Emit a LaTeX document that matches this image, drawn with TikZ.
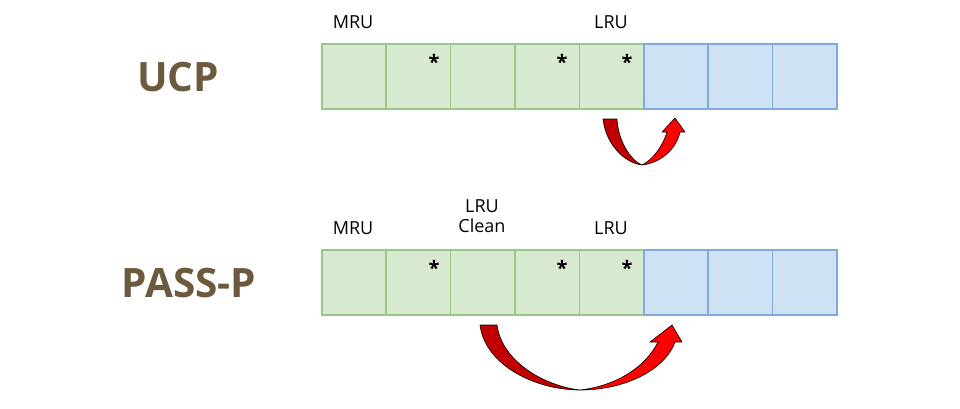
\documentclass[tikz,border=0pt]{standalone}
\usepackage{fontspec}
\setmainfont{Open Sans}
\definecolor{gfill}{HTML}{D8E9D2}
\definecolor{gline}{HTML}{98C887}
\definecolor{bfill}{HTML}{CFE2F3}
\definecolor{bline}{HTML}{7FAADF}
\definecolor{titlec}{HTML}{6B5A3E}
\definecolor{darkred}{HTML}{C00000}
\definecolor{brightred}{HTML}{FF0000}
\begin{document}
\begin{tikzpicture}[x=1pt,y=-1pt,
  gcell/.style={draw=gline,fill=gfill,line width=1.5pt,minimum width=64.4pt,minimum height=65pt,inner sep=0pt,anchor=north west},
  bcell/.style={draw=bline,fill=bfill,line width=1.5pt,minimum width=64.4pt,minimum height=65pt,inner sep=0pt,anchor=north west},
  lbl/.style={font=\fontsize{18}{22}\selectfont,inner sep=0pt,align=center},
  ttl/.style={font=\fontsize{40.5}{44}\selectfont\bfseries,text=titlec,inner sep=0pt},
  star/.style={font=\fontsize{20}{20}\selectfont\bfseries,inner sep=0pt},
  arrowpart/.style={draw=black,line width=0.6pt,line join=round}]
\useasboundingbox (0,0) rectangle (960,408);
% top row
\foreach \i in {0,...,4} {\node[gcell] (t\i) at ({321+64.4*\i},43) {};}
\foreach \i in {5,6,7} {\node[bcell] (t\i) at ({321+64.4*\i},43) {};}
% bottom row
\foreach \i in {0,...,4} {\node[gcell] (b\i) at ({321+64.4*\i},249) {};}
\foreach \i in {5,6,7} {\node[bcell] (b\i) at ({321+64.4*\i},249) {};}
% stars
\node[star] (ts1) at (434,62) {*};
\node[star] (ts3) at (562,62) {*};
\node[star] (ts4) at (627,62) {*};
\node[star] (bs1) at (434,268) {*};
\node[star] (bs3) at (562,268) {*};
\node[star] (bs4) at (627,268) {*};
% labels
\node[lbl] (tm) at (353,22) {MRU};
\node[lbl] (tl) at (611,22) {LRU};
\node[lbl] (bm) at (353,228) {MRU};
\node[lbl] (bc) at (482,216) {LRU\\[-2pt]Clean};
\node[lbl] (bl) at (611,228) {LRU};
% titles
\node[ttl] (ucp) at (178,77) {UCP};
\node[ttl] (pass) at (189,283) {PASS-P};
% top arrow
\fill[darkred,arrowpart] (603,119) .. controls (606,145) and (625,163) .. (642,165)
  .. controls (630,160) and (618,140) .. (617,119) -- cycle;
\fill[brightred,arrowpart] (642,165) .. controls (660,163) and (676,150) .. (680,132)
  -- (685,132) -- (675,118) -- (662,132) -- (667,132)
  .. controls (662,148) and (652,160) .. (642,165) -- cycle;
% bottom arrow
\fill[darkred,arrowpart] (480,325) .. controls (485,365) and (535,390) .. (580,390)
  .. controls (545,386) and (502,362) .. (497,325) -- cycle;
\fill[brightred,arrowpart] (580,390) .. controls (625,390) and (665,370) .. (675,342)
  -- (682,342) -- (672,325) -- (650,342) -- (658,342)
  .. controls (645,368) and (615,386) .. (580,390) -- cycle;
\end{tikzpicture}
\end{document}
